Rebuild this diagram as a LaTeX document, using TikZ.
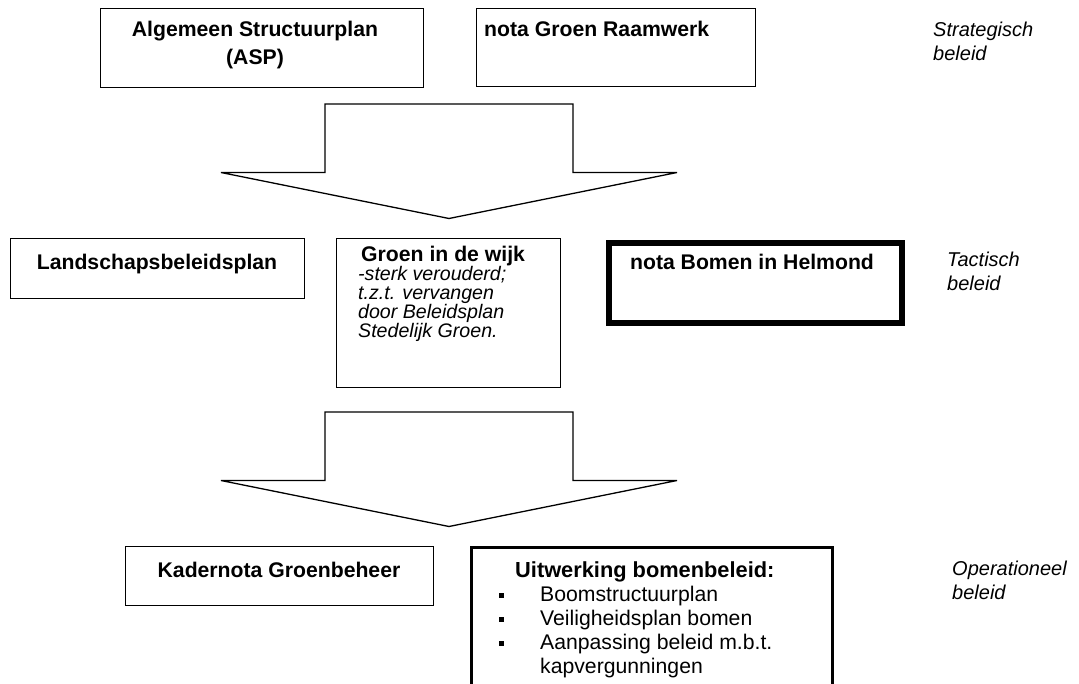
\documentclass[tikz,border=0pt]{standalone}
\usepackage{fontspec}
\setmainfont{Liberation Sans}
\usetikzlibrary{positioning}
\tikzset{>=latex}

\newcommand{\bul}{\makebox[41pt][l]{\rule[3.5pt]{5pt}{5pt}}}

\begin{document}
\begin{tikzpicture}[x=1pt,y=-1pt,
  plan/.style={draw, line width=1.3pt, anchor=north west, inner sep=0pt},
  kop/.style={inner sep=0pt, anchor=base, align=center, font=\bfseries\fontsize{21.2}{28}\selectfont},
  noot/.style={inner sep=0pt, anchor=base west, align=left, font=\itshape\fontsize{20}{24}\selectfont},
  pijl/.style={draw, line width=1.3pt, line join=miter}]
  \useasboundingbox (0,0) rectangle (1079,684);
  \clip (0,0) rectangle (1079,684);
  % strategisch beleid (tekst: basislijn van de laatste regel)
  \node[plan, minimum width=323pt, minimum height=79pt] (asp) at (100,8) {};
  \node[plan, minimum width=279pt, minimum height=78pt] (ngr) at (476,8) {};
  \node[kop] (asptxt) at (255,65) {Algemeen Structuurplan\\(ASP)};
  \node[kop, anchor=base west] (ngrtxt) at (484,37) {nota Groen Raamwerk};
  \node[noot] (strat) at (933,61) {Strategisch\\beleid};
  % blokpijlen
  \foreach \Y in {104,412} {%
    \draw[pijl] (325,\Y) -- (573,\Y) -- (573,\Y+68.5) -- (677,\Y+68.5)
      -- (449,\Y+114.5) -- (221,\Y+68.5) -- (325,\Y+68.5) -- cycle;
  }
  % tactisch beleid
  \node[plan, minimum width=294pt, minimum height=60pt] (lbp) at (10,238) {};
  \node[plan, minimum width=224pt, minimum height=149pt] (gidw) at (336,238) {};
  \node[plan, line width=6pt, minimum width=293pt, minimum height=80pt] (nbih) at (606,240) {};
  \node[kop] (lbptxt) at (157,270) {Landschapsbeleidsplan};
  \node[noot, font=\itshape\fontsize{19.6}{19}\selectfont] (gidwtxt) at (358,338)
    {\hspace*{3pt}{\upshape\bfseries\fontsize{21.2}{19}\selectfont Groen in de wijk}\\-sterk verouderd;\\t.z.t. vervangen\\door Beleidsplan\\Stedelijk Groen.};
  \node[kop] (nbihtxt) at (752,270) {nota Bomen in Helmond};
  \node[noot] (tact) at (947,291) {Tactisch\\beleid};
  % operationeel beleid
  \node[plan, minimum width=308pt, minimum height=59pt] (kng) at (125,546) {};
  \node[plan, line width=2.7pt, minimum width=361pt, minimum height=200pt] (uwb) at (470,546) {};
  \node[kop] (kngtxt) at (279,577) {Kadernota Groenbeheer};
  \node[inner sep=0pt, anchor=base west, align=left, font=\fontsize{21.2}{24}\selectfont] (uwbtxt) at (499,673)
    {\hspace*{16pt}{\bfseries\fontsize{21.8}{24}\selectfont Uitwerking bomenbeleid:}\\\bul Boomstructuurplan\\\bul Veiligheidsplan bomen\\\bul Aanpassing beleid m.b.t.\\\hspace*{41pt}kapvergunningen};
  \node[noot] (oper) at (952,599) {Operationeel\\beleid};
\end{tikzpicture}
\end{document}
